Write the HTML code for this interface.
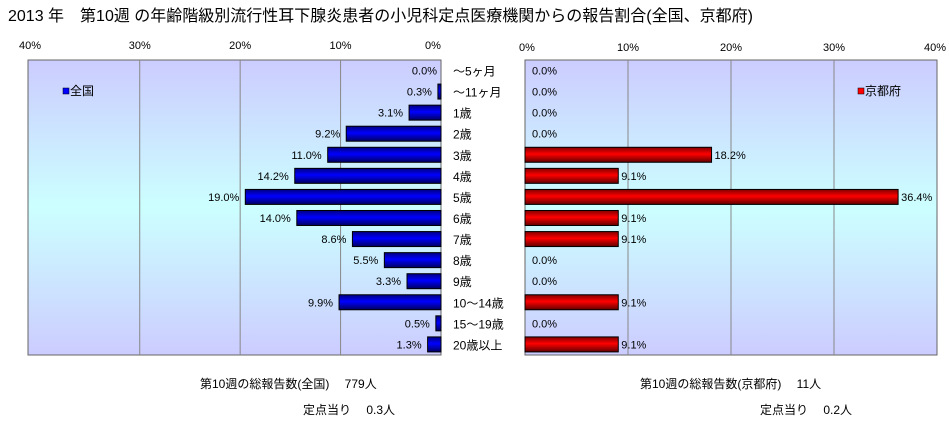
<!DOCTYPE html>
<html><head><meta charset="utf-8"><style>
body{margin:0;width:949px;height:424px;background:#fff;font-family:"Liberation Sans","Noto Sans CJK JP",sans-serif;overflow:hidden}
</style></head><body>
<svg id="c" width="949" height="424" xmlns="http://www.w3.org/2000/svg" font-family="Liberation Sans, Noto Sans CJK JP, sans-serif">
<defs>
<linearGradient id="bg" x1="0" y1="0" x2="0" y2="1">
<stop offset="0" stop-color="#ccccff"/><stop offset="0.5" stop-color="#ccffff"/><stop offset="1" stop-color="#ccccff"/></linearGradient>
<linearGradient id="bl" x1="0" y1="0" x2="0" y2="1"><stop offset="0" stop-color="#000080"/><stop offset="0.45" stop-color="#0000ff"/><stop offset="1" stop-color="#000060"/></linearGradient>
<linearGradient id="rd" x1="0" y1="0" x2="0" y2="1"><stop offset="0" stop-color="#800000"/><stop offset="0.45" stop-color="#ff0000"/><stop offset="1" stop-color="#600000"/></linearGradient>
</defs>
<text x="8" y="21" font-size="16" fill="#000">2013 年　第10週 の年齢階級別流行性耳下腺炎患者の小児科定点医療機関からの報告割合(全国、京都府)</text>
<rect x="28" y="60" width="413" height="295" fill="url(#bg)" stroke="#666"/>
<rect x="525" y="60" width="412" height="295" fill="url(#bg)" stroke="#666"/>
<g id="g"></g>
<rect x="63" y="88" width="6" height="6" fill="#0000ff" stroke="#000" stroke-width="0.5"/>
<text x="70" y="95" font-size="12">全国</text>
<rect x="858" y="88" width="6" height="6" fill="#ff0000" stroke="#000" stroke-width="0.5"/>
<text x="865" y="95" font-size="12">京都府</text>
<text x="200" y="388" font-size="12">第10週の総報告数(全国)　 779人</text>
<text x="303" y="414" font-size="12">定点当り　 0.3人</text>
<text x="640" y="388" font-size="12">第10週の総報告数(京都府)　 11人</text>
<text x="760" y="414" font-size="12">定点当り　 0.2人</text>
</svg>
<script>
const categories=["～5ヶ月","～11ヶ月","1歳","2歳","3歳","4歳","5歳","6歳","7歳","8歳","9歳","10～14歳","15～19歳","20歳以上"];
const nationalValues=[0.0,0.3,3.1,9.2,11.0,14.2,19.0,14.0,8.6,5.5,3.3,9.9,0.5,1.3];
const kyotoValues=[0.0,0.0,0.0,0.0,18.2,9.1,36.4,9.1,9.1,0.0,0.0,9.1,0.0,9.1];
const tickValues=[0,10,20,30,40];
const NS="http://www.w3.org/2000/svg";
const g=document.getElementById('g');
const xL=v=>441-v*10.3;
const xR=v=>525+v*10.25;
const yRow=i=>60+i*21.07;
function mk(t,a){const e=document.createElementNS(NS,t);for(const k in a)e.setAttribute(k,a[k]);g.appendChild(e);return e;}
tickValues.forEach((t,i)=>{
 const lx=441-t*10.3*(t?0.975:1), rx=525+t*10.3;
 if(t>0&&t<40){
  let l=mk('line',{x1:lx,x2:lx,y1:60,y2:355,stroke:'#888'});
  
  
  let r=mk('line',{x1:rx,x2:rx,y1:60,y2:355,stroke:'#888'});
  
  
 }
 let a=mk('text',{x:t===40?30:(t===0?433:lx),y:49,'font-size':11,'text-anchor':'middle'});a.textContent=t+'%';
 
 
 let b=mk('text',{x:t===40?935:(t===0?527:rx),y:51,'font-size':11,'text-anchor':'middle'});b.textContent=t+'%';
 
 
});
categories.forEach((c,i)=>{
 const y=yRow(i), cy=y+10.5;
 const v=nationalValues[i], k=kyotoValues[i];
 let t=mk('text',{x:453,y:cy+5,'font-size':12});t.textContent=c;
 
 
 if(v>0){let r=mk('rect',{x:xL(v),y:y+3,width:441-xL(v),height:15,fill:'url(#bl)',stroke:'#000','stroke-width':1});
 
 }
 let lv=mk('text',{x:xL(v)-(v>0?6:4),y:cy+4,'font-size':11,'text-anchor':'end'});lv.textContent=v.toFixed(1)+'%';
 
 
 if(k>0){let r=mk('rect',{x:525,y:y+3,width:xR(k)-525,height:15,fill:'url(#rd)',stroke:'#000','stroke-width':1});
 
 }
 let rv=mk('text',{x:xR(k)+(k>0?3:7),y:cy+4,'font-size':11});rv.textContent=k.toFixed(1)+'%';
 
 
});
</script>
</body></html>
